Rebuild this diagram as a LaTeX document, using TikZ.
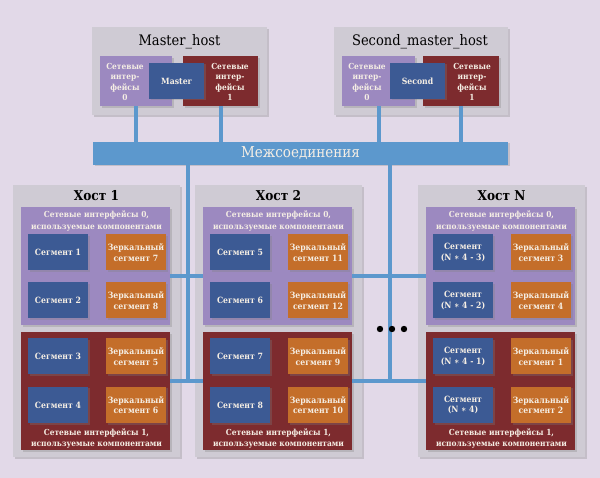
\documentclass[tikz,border=0pt]{standalone}
\usepackage{fontspec}
\setmainfont{DejaVu Serif Condensed}
\usetikzlibrary{shadows}
\definecolor{bgLavender}{HTML}{E2D9E8}
\definecolor{hostGray}{HTML}{CFCBD4}
\definecolor{ifaceZero}{HTML}{9C89C0}
\definecolor{ifaceOne}{HTML}{7D2B2E}
\definecolor{segBlue}{HTML}{3C5A94}
\definecolor{mirrorOrange}{HTML}{C46E2A}
\definecolor{linkBlue}{HTML}{5C98CD}
\definecolor{boxText}{HTML}{F5EEE4}

\tikzset{
  softshadow/.style={drop shadow={shadow xshift=1.5pt, shadow yshift=-1.5pt, opacity=0.3}},
  hostbox/.style={fill=hostGray, softshadow, anchor=north west, inner sep=0pt,
    minimum width=167pt, minimum height=272pt},
  ifacezero/.style={fill=ifaceZero, softshadow, anchor=north west, inner sep=0pt,
    minimum width=149pt, minimum height=118pt},
  ifaceone/.style={ifacezero, fill=ifaceOne},
  segbox/.style={fill=segBlue, softshadow, inner sep=1pt, align=center, text=boxText,
    minimum width=60pt, minimum height=36pt, font=\fontsize{8.6}{10.5}\selectfont\bfseries},
  mirrorbox/.style={segbox, fill=mirrorOrange},
  hosttitle/.style={font=\fontsize{14.5}{16}\selectfont},
  ifacetext/.style={text=boxText, align=center, font=\fontsize{8.3}{11.5}\selectfont\bfseries},
  link/.style={linkBlue, line width=4pt}
}

\begin{document}
\begin{tikzpicture}[x=1pt, y=-1pt]
  \fill[bgLavender] (0,0) rectangle (600,478);
  \useasboundingbox (0,0) rectangle (600,478);

  % master hosts
  \node[hostbox, minimum width=175pt, minimum height=88pt] (mhost) at (92,27) {};
  \node[hosttitle] (mhostt) at (179.5,42) {Master\_host};
  \node[ifacezero, minimum width=72pt, minimum height=50pt] (m0) at (100,56) {};
  \node[ifaceone, minimum width=75pt, minimum height=50pt] (m1) at (183,56) {};
  \node[segbox, minimum width=55pt] (master) at (176.5,81) {Master};
  \node[ifacetext, font=\fontsize{8.3}{10.5}\selectfont\bfseries] (m0t) at (125,82) {Сетевые\\интер-\\фейсы\\0};
  \node[ifacetext, font=\fontsize{8.3}{10.5}\selectfont\bfseries] (m1t) at (230,82) {Сетевые\\интер-\\фейсы\\1};

  \node[hostbox, minimum width=174pt, minimum height=88pt] (shost) at (334,27) {};
  \node[hosttitle] (shostt) at (420,42) {Second\_master\_host};
  \node[ifacezero, minimum width=73pt, minimum height=50pt] (s0) at (342,56) {};
  \node[ifaceone, minimum width=76pt, minimum height=50pt] (s1) at (423,56) {};
  \node[segbox, minimum width=55pt] (second) at (417.5,81) {Second};
  \node[ifacetext, font=\fontsize{8.3}{10.5}\selectfont\bfseries] (s0t) at (367,82) {Сетевые\\интер-\\фейсы\\0};
  \node[ifacetext, font=\fontsize{8.3}{10.5}\selectfont\bfseries] (s1t) at (472,82) {Сетевые\\интер-\\фейсы\\1};

  % interconnect
  \node[fill=linkBlue, softshadow, minimum width=415pt, minimum height=23pt, inner sep=0pt,
    text=boxText, font=\fontsize{15}{17}\selectfont] (bar) at (300.5,153.5) {Межсоединения};
  \draw[link] (m0.south) -- (m0.south |- bar.north);
  \draw[link] (m1.south) -- (m1.south |- bar.north);
  \draw[link] (s0.south) -- (s0.south |- bar.north);
  \draw[link] (s1.south) -- (s1.south |- bar.north);

  % host 1
  \begin{scope}[shift={(13,0)}]
    \node[hostbox] (h1) at (0,185) {};
    \node[hosttitle, font=\fontsize{13.5}{15}\selectfont\bfseries] (h1t) at (83.5,196) {Хост 1};
    \node[ifacezero] (h1i0) at (8,207) {};
    \node[ifacetext] (h1i0t) at (83.5,221) {Сетевые интерфейсы 0,\\используемые компонентами};
    \node[segbox] (seg1) at (45,252.5) {Сегмент 1};
    \node[mirrorbox] (z7) at (123,252.5) {Зеркальный\\сегмент 7};
    \node[segbox] (seg2) at (45,300.5) {Сегмент 2};
    \node[mirrorbox] (z8) at (123,300.5) {Зеркальный\\сегмент 8};
    \node[ifaceone] (h1i1) at (8,332) {};
    \node[segbox] (seg3) at (45,356.5) {Сегмент 3};
    \node[mirrorbox] (z5) at (123,356.5) {Зеркальный\\сегмент 5};
    \node[segbox] (seg4) at (45,405) {Сегмент 4};
    \node[mirrorbox] (z6) at (123,405) {Зеркальный\\сегмент 6};
    \node[ifacetext] (h1i1t) at (83.5,438.5) {Сетевые интерфейсы 1,\\используемые компонентами};
  \end{scope}

  % host 2
  \begin{scope}[shift={(195,0)}]
    \node[hostbox] (h2) at (0,185) {};
    \node[hosttitle, font=\fontsize{13.5}{15}\selectfont\bfseries] (h2t) at (83.5,196) {Хост 2};
    \node[ifacezero] (h2i0) at (8,207) {};
    \node[ifacetext] (h2i0t) at (83.5,221) {Сетевые интерфейсы 0,\\используемые компонентами};
    \node[segbox] (seg5) at (45,252.5) {Сегмент 5};
    \node[mirrorbox] (z11) at (123,252.5) {Зеркальный\\сегмент 11};
    \node[segbox] (seg6) at (45,300.5) {Сегмент 6};
    \node[mirrorbox] (z12) at (123,300.5) {Зеркальный\\сегмент 12};
    \node[ifaceone] (h2i1) at (8,332) {};
    \node[segbox] (seg7) at (45,356.5) {Сегмент 7};
    \node[mirrorbox] (z9) at (123,356.5) {Зеркальный\\сегмент 9};
    \node[segbox] (seg8) at (45,405) {Сегмент 8};
    \node[mirrorbox] (z10) at (123,405) {Зеркальный\\сегмент 10};
    \node[ifacetext] (h2i1t) at (83.5,438.5) {Сетевые интерфейсы 1,\\используемые компонентами};
  \end{scope}

  % host N
  \begin{scope}[shift={(418,0)}]
    \node[hostbox] (hN) at (0,185) {};
    \node[hosttitle, font=\fontsize{13.5}{15}\selectfont\bfseries] (hNt) at (83.5,196) {Хост N};
    \node[ifacezero] (hNi0) at (8,207) {};
    \node[ifacetext] (hNi0t) at (83.5,221) {Сетевые интерфейсы 0,\\используемые компонентами};
    \node[segbox] (segN1) at (45,252.5) {Сегмент\\(N ∗ 4 - 3)};
    \node[mirrorbox] (z3) at (123,252.5) {Зеркальный\\сегмент 3};
    \node[segbox] (segN2) at (45,300.5) {Сегмент\\(N ∗ 4 - 2)};
    \node[mirrorbox] (z4) at (123,300.5) {Зеркальный\\сегмент 4};
    \node[ifaceone] (hNi1) at (8,332) {};
    \node[segbox] (segN3) at (45,356.5) {Сегмент\\(N ∗ 4 - 1)};
    \node[mirrorbox] (z1) at (123,356.5) {Зеркальный\\сегмент 1};
    \node[segbox] (segN4) at (45,405) {Сегмент\\(N ∗ 4)};
    \node[mirrorbox] (z2) at (123,405) {Зеркальный\\сегмент 2};
    \node[ifacetext] (hNi1t) at (83.5,438.5) {Сетевые интерфейсы 1,\\используемые компонентами};
  \end{scope}

  % links between hosts
  \coordinate (l0) at (0,276);
  \coordinate (j1) at (188,381);
  \coordinate (j2) at (390,381);
  \draw[link] (bar.south -| j1) -- (j1);
  \draw[link] (bar.south -| j2) -- (j2);
  \draw[link] (h1i0.east |- l0) -- (h2i0.west |- l0);
  \draw[link] (h2i0.east |- l0) -- (hNi0.west |- l0);
  \draw[link] (h1i1.east |- j1) -- (h2i1.west |- j1);
  \draw[link] (h2i1.east |- j2) -- (hNi1.west |- j2);
  \fill (380,329) circle (3.2pt) (392,329) circle (3.2pt) (404,329) circle (3.2pt);
\end{tikzpicture}
\end{document}
